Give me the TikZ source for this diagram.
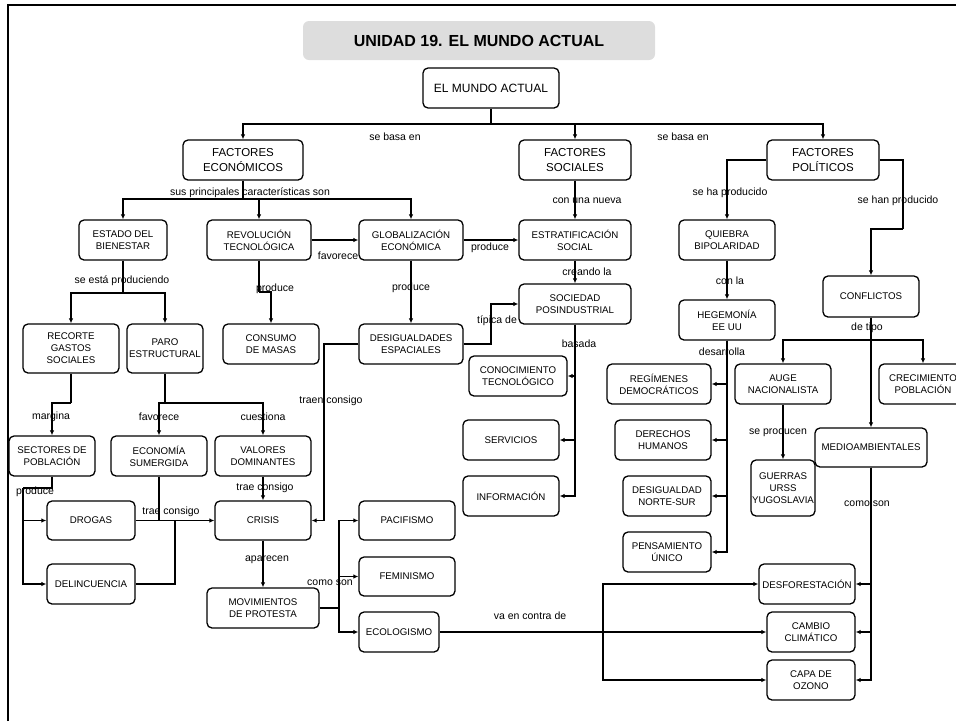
\documentclass[tikz,border=0pt]{standalone}
\usepackage{fontspec}
\setmainfont{Liberation Sans}
\usetikzlibrary{arrows.meta,positioning}

\begin{document}
\begin{tikzpicture}[x=1pt,y=-1pt,>={Latex[length=5pt,width=4.5pt]},
    caja/.style={draw,rounded corners=5pt,line width=1.3pt,align=center,inner sep=0pt,
      font=\fontsize{9.7}{12}\selectfont},
    tam/.style 2 args={minimum width=#1,minimum height=#2},
    factor/.style={caja,tam={112}{40},font=\fontsize{11.5}{15}\selectfont},
    etiq/.style={inner sep=0pt,font=\fontsize{10.5}{12}\selectfont},
    lin/.style={line width=1.8pt},
    flecha/.style={lin,->}]
    \definecolor{gTit}{RGB}{221,221,221}
    \useasboundingbox (0,0) rectangle (956,721);
    % marco
    \draw[line width=2.5pt] (8,721) -- (8,5) -- (957,5);
    % titulo y raiz
    \node[fill=gTit,rounded corners=6pt,tam={352}{39},font=\bfseries\fontsize{16}{18}\selectfont]
       (titulo) at (479,40.5) {UNIDAD 19. EL MUNDO ACTUAL};
    \node[caja,tam={136}{40},font=\fontsize{12}{14}\selectfont] (mundo) at (491,88) {EL MUNDO ACTUAL};
    % factores
    \node[factor,minimum width=120] (fe) at (243,160) {FACTORES\\ECONÓMICOS};
    \node[factor] (fs) at (575,160) {FACTORES\\SOCIALES};
    \node[factor] (fp) at (823,160) {FACTORES\\POLÍTICOS};
    % economicos
    \node[caja,tam={88}{40}] (estado) at (123,240) {ESTADO DEL\\BIENESTAR};
    \node[caja,tam={104}{40}] (revol) at (259,240) {REVOLUCIÓN\\TECNOLÓGICA};
    \node[caja,tam={104}{40}] (glob) at (411,240) {GLOBALIZACIÓN\\ECONÓMICA};
    \node[caja,tam={96}{49}] (recorte) at (71,348.5) {RECORTE\\GASTOS\\SOCIALES};
    \node[caja,tam={76}{49}] (paro) at (165,348.5) {PARO\\ESTRUCTURAL};
    \node[caja,tam={96}{40}] (consumo) at (271,344) {CONSUMO\\DE MASAS};
    \node[caja,tam={104}{40}] (desig) at (411,344) {DESIGUALDADES\\ESPACIALES};
    \node[caja,tam={86}{40}] (sectores) at (52,456) {SECTORES DE\\POBLACIÓN};
    \node[caja,tam={96}{40}] (economia) at (159,456) {ECONOMÍA\\SUMERGIDA};
    \node[caja,tam={96}{40}] (valores) at (263,456) {VALORES\\DOMINANTES};
    \node[caja,tam={88}{39}] (drogas) at (91,520.5) {DROGAS};
    \node[caja,tam={88}{40}] (delinc) at (91,584) {DELINCUENCIA};
    \node[caja,tam={96}{39}] (crisis) at (263,520.5) {CRISIS};
    \node[caja,tam={112}{40}] (movim) at (263,608) {MOVIMIENTOS\\DE PROTESTA};
    \node[caja,tam={96}{39}] (pacif) at (407,520.5) {PACIFISMO};
    \node[caja,tam={96}{39}] (femin) at (407,576.5) {FEMINISMO};
    \node[caja,tam={80}{40}] (ecolog) at (399,632) {ECOLOGISMO};
    % sociales
    \node[caja,tam={112}{40}] (estrat) at (575,240) {ESTRATIFICACIÓN\\SOCIAL};
    \node[caja,tam={112}{40}] (sociedad) at (575,304) {SOCIEDAD\\POSINDUSTRIAL};
    \node[caja,tam={98}{40}] (conoc) at (518,376) {CONOCIMIENTO\\TECNOLÓGICO};
    \node[caja,tam={96}{40}] (servicios) at (511,440) {SERVICIOS};
    \node[caja,tam={96}{40}] (informac) at (511,496) {INFORMACIÓN};
    % politicos
    \node[caja,tam={96}{40}] (quiebra) at (727,240) {QUIEBRA\\BIPOLARIDAD};
    \node[caja,tam={96}{40}] (hegem) at (727,320) {HEGEMONÍA\\EE UU};
    \node[caja,tam={104}{40}] (regimen) at (659,384) {REGÍMENES\\DEMOCRÁTICOS};
    \node[caja,tam={96}{40}] (derechos) at (663,440) {DERECHOS\\HUMANOS};
    \node[caja,tam={88}{40}] (nortesur) at (667,496) {DESIGUALDAD\\NORTE-SUR};
    \node[caja,tam={88}{40}] (pensam) at (667,552) {PENSAMIENTO\\ÚNICO};
    \node[caja,tam={96}{41}] (conflic) at (871,296.5) {CONFLICTOS};
    \node[caja,tam={96}{40}] (auge) at (783,384) {AUGE\\NACIONALISTA};
    \node[caja,tam={88}{40}] (crecim) at (923,384) {CRECIMIENTO\\POBLACIÓN};
    \node[caja,tam={112}{39}] (medio) at (871,447.5) {MEDIOAMBIENTALES};
    \node[caja,tam={64}{56}] (guerras) at (783,488) {GUERRAS\\URSS\\YUGOSLAVIA};
    \node[caja,tam={96}{40}] (desfor) at (807,584) {DESFORESTACIÓN};
    \node[caja,tam={88}{40}] (cambio) at (811,632) {CAMBIO\\CLIMÁTICO};
    \node[caja,tam={88}{40}] (capa) at (811,680) {CAPA DE\\OZONO};
    % puntos de union
    \coordinate (j0) at (491,124);
    \coordinate (j1) at (243,199);
    \coordinate (j2) at (123,293);
    \coordinate (j3) at (259,292);
    \coordinate (j4) at (903,229);
    \coordinate (j5) at (871,340);
    \coordinate (k1) at (71,403);
    \coordinate (k2) at (165,403);
    \coordinate (s1) at (23,488);
    \coordinate (e1) at (159,520);
    \coordinate (d1) at (175,520);
    \coordinate (m1) at (339,608);
    \coordinate (v1) at (603,632);
    % conectores
    \draw[lin] (mundo.south) -- (j0);
    \foreach \n in {fe,fs,fp} \draw[flecha] (j0) -| (\n.north);
    \draw[lin] (fe.south) -- (j1);
    \foreach \n in {estado,revol,glob} \draw[flecha] (j1) -| (\n.north);
    \draw[flecha] (revol.east) -- (glob.west);
    \draw[flecha] (glob.east) -- (estrat.west);
    \draw[flecha] (fs.south) -- (estrat.north);
    \draw[flecha] (fp.west) -| (quiebra.north);
    \draw[lin] (fp.east) -| (j4);
    \draw[flecha] (j4) -| (conflic.north);
    \draw[lin] (estado.south) -- (j2);
    \foreach \n in {recorte,paro} \draw[flecha] (j2) -| (\n.north);
    \draw[lin] (revol.south) -- (j3);
    \draw[flecha] (j3) -| (consumo.north);
    \draw[flecha] (glob.south) -- (desig.north);
    \draw[flecha] (desig.east) -- ++(27,0) |- (sociedad.west);
    \draw[flecha] (desig.west) -- ++(-34,0) |- (crisis.east);
    \draw[flecha] (estrat.south) -- (sociedad.north);
    \foreach \n in {conoc,servicios,informac} \draw[flecha] (sociedad.south) |- (\n.east);
    \draw[flecha] (quiebra.south) -- (hegem.north);
    \foreach \n in {regimen,derechos,nortesur,pensam} \draw[flecha] (hegem.south) |- (\n.east);
    \draw[lin] (conflic.south) -- (j5);
    \foreach \n in {auge,crecim} \draw[flecha] (j5) -| (\n.north);
    \draw[flecha] (conflic.south) -- (medio.north);
    \draw[flecha] (auge.south) -- (guerras.north);
    \foreach \n in {desfor,cambio,capa} \draw[flecha] (medio.south) |- (\n.east);
    \draw[flecha] (ecolog.east) -- (cambio.west);
    \foreach \n in {desfor,capa} \draw[flecha] (v1) |- (\n.west);
    \draw[lin] (recorte.south) -- (k1);
    \draw[lin] (paro.south) -- (k2);
    \draw[flecha] (k1) -| (sectores.north);
    \draw[flecha] (k2) -| (economia.north);
    \draw[flecha] (k2) -| (valores.north);
    \draw[flecha] (valores.south) -- (crisis.north);
    \draw[lin] (sectores.south) |- (s1);
    \foreach \n in {drogas,delinc} \draw[flecha] (s1) |- (\n.west);
    \draw[flecha] (drogas.east) -- (crisis.west);
    \draw[lin] (economia.south) -- (e1);
    \draw[lin] (delinc.east) -| (d1);
    \draw[flecha] (crisis.south) -- (movim.north);
    \draw[lin] (movim.east) -- (m1);
    \foreach \n in {pacif,femin,ecolog} \draw[flecha] (m1) |- (\n.west);
    % etiquetas
    \node[etiq] (l1) at (395,136.5) {se basa en};
    \node[etiq] (l2) at (683,136.5) {se basa en};
    \node[etiq] (l3) at (250,192.5) {sus principales características son};
    \node[etiq] (l4) at (338,256) {favorece};
    \node[etiq] (l5) at (490,248) {produce};
    \node[etiq] (l6) at (587,201) {con una nueva};
    \node[etiq] (l7) at (730,193) {se ha producido};
    \node[etiq] (l8) at (898,201) {se han producido};
    \node[etiq] (l9) at (122,281) {se está produciendo};
    \node[etiq] (l10) at (275,289) {produce};
    \node[etiq] (l11) at (411,288) {produce};
    \node[etiq] (l12) at (497,321) {típica de};
    \node[etiq] (l13) at (331,401) {traen consigo};
    \node[etiq] (l14) at (587,272) {creando la};
    \node[etiq] (l15) at (579,344) {basada};
    \node[etiq] (l16) at (730,281) {con la};
    \node[etiq] (l17) at (722,352) {desarrolla};
    \node[etiq] (l18) at (867,328) {de tipo};
    \node[etiq] (l19) at (778,432) {se producen};
    \node[etiq] (l20) at (867,504) {como son};
    \node[etiq] (l21) at (530,616) {va en contra de};
    \node[etiq] (l22) at (51,417) {margina};
    \node[etiq] (l23) at (159,417) {favorece};
    \node[etiq] (l24) at (263,417) {cuestiona};
    \node[etiq] (l25) at (265,488) {trae consigo};
    \node[etiq] (l26) at (35,492) {produce};
    \node[etiq] (l27) at (171,512) {trae consigo};
    \node[etiq] (l28) at (267,560) {aparecen};
    \node[etiq] (l29) at (330,583) {como son};
\end{tikzpicture}
\end{document}
